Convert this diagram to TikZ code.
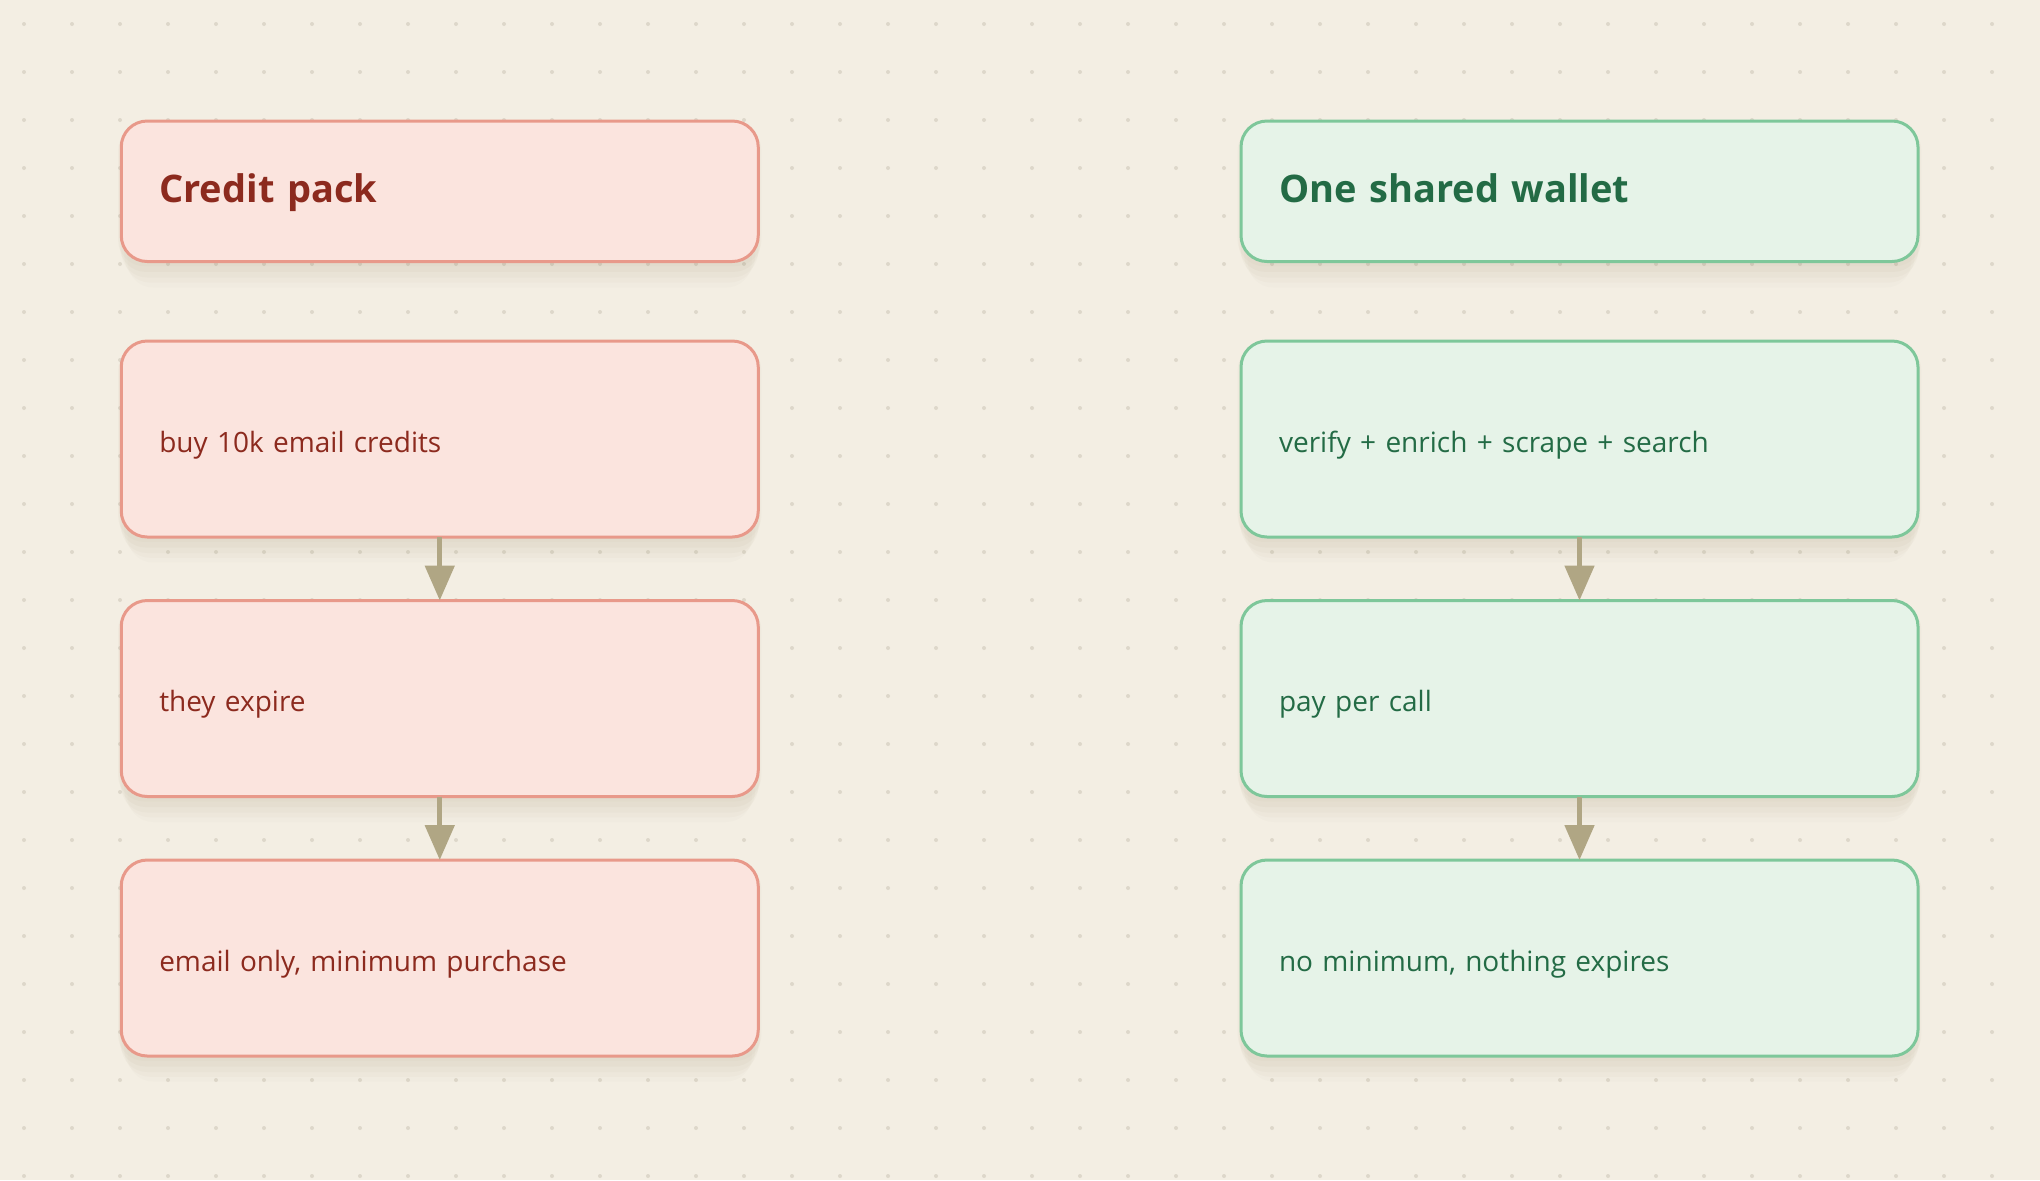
\documentclass[tikz,border=0pt]{standalone}
\usepackage{fontspec}
\setmainfont{Open Sans}
\usetikzlibrary{arrows.meta,positioning,shadows}

\definecolor{paper}{HTML}{F3EEE3}
\definecolor{griddot}{HTML}{DDD7CA}
\definecolor{packfill}{HTML}{FBE4DE}
\definecolor{packline}{HTML}{E8998A}
\definecolor{packtext}{HTML}{8C2A1E}
\definecolor{walletfill}{HTML}{E6F3E8}
\definecolor{walletline}{HTML}{7EC79A}
\definecolor{wallettext}{HTML}{236B45}
\definecolor{flow}{HTML}{B0A684}
\definecolor{shade}{HTML}{8A7A55}

\begin{document}
\begin{tikzpicture}[x=0.5pt,y=-0.5pt,node distance=31.75pt,
                    >={Triangle[length=17.5pt,width=14.5pt]}]
  \tikzstyle{card}=[draw, rounded corners=13pt, line width=1.5pt, outer sep=0pt,
    inner xsep=19pt, inner ysep=0pt, align=left, minimum height=98pt,
    text height=13.4pt, text depth=0pt, font=\fontsize{14}{17}\selectfont,
    drop shadow={shadow xshift=0pt,shadow yshift=-2pt,shadow scale=1.01,opacity=.035,fill=shade},
    drop shadow={shadow xshift=0pt,shadow yshift=-5pt,shadow scale=1.005,opacity=.035,fill=shade},
    drop shadow={shadow xshift=0pt,shadow yshift=-8pt,opacity=.03,fill=shade},
    drop shadow={shadow xshift=0pt,shadow yshift=-11pt,shadow scale=.99,opacity=.03,fill=shade},
    drop shadow={shadow xshift=0pt,shadow yshift=-14pt,shadow scale=.98,opacity=.02,fill=shade}]
  \tikzstyle{heading}=[minimum height=70.25pt, text height=11pt,
    font=\fontsize{19}{23}\selectfont\bfseries]
  \tikzstyle{pack}=[card, fill=packfill, draw=packline, text=packtext, text width=280.5pt]
  \tikzstyle{wallet}=[card, fill=walletfill, draw=walletline, text=wallettext, text width=300.5pt]
  \tikzstyle{flowline}=[->, color=flow, line width=2.5pt]

  % canvas and dot grid
  \fill[paper] (0,0) rectangle (2040,1180);
  \useasboundingbox (0,0) rectangle (2040,1180);
  \foreach \i in {0,...,41}
    \foreach \j in {0,...,24}
      \fill[griddot] (24+48*\i,24+48*\j) circle (1pt);

  % left column
  \node[pack,heading] (packhead) at (439.75,191.25) {Credit pack};
  \node[pack] (buy)    [below=39.75pt of packhead] {buy 10k email credits};
  \node[pack] (expire) [below=of buy]    {they expire};
  \node[pack] (emailonly) [below=of expire] {email only, minimum purchase};

  % right column
  \node[wallet,heading] (wallethead) at (1579.5,191.25) {One shared wallet};
  \node[wallet] (calls)  [below=39.75pt of wallethead] {verify + enrich + scrape + search};
  \node[wallet] (paycall) [below=of calls]   {pay per call};
  \node[wallet] (nomin)  [below=of paycall] {no minimum, nothing expires};

  \path[flowline] (buy) edge (expire)
        (expire) edge (emailonly)
        (calls) edge (paycall)
        (paycall) edge (nomin);
\end{tikzpicture}
\end{document}
